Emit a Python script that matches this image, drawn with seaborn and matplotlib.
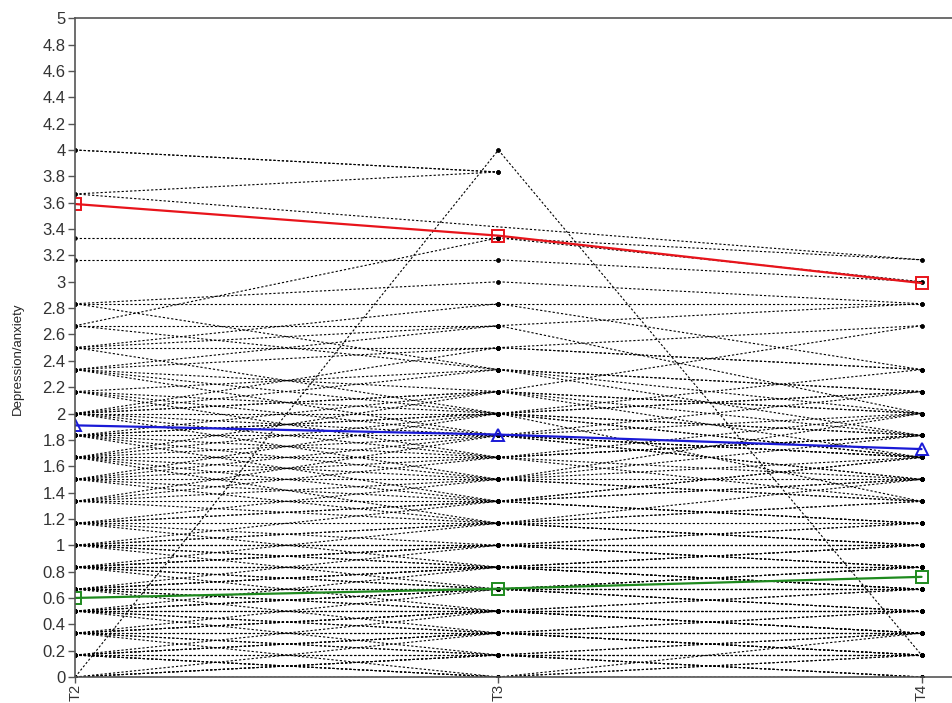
import numpy as np
import pandas as pd
import matplotlib
matplotlib.use("Agg")
import matplotlib.pyplot as plt
import seaborn as sns

N = np.nan

# individual trajectories, scores in sixths (0..24 -> 0..4)
t2 = [24, 24, 22, 22, 0, 20, 19, 17, 16, 17, 16, 15, 14, 16, 15, 17, 14, 15, 12, 15,
      14, 13, 12, 12, 11, 11, 10, 10, 12, 11, 9, 9, 10, 8, 13, 12, 11, 8, 9, 10,
      12, 11, 8, 9, 7, 10, 13, 14, 12, 11, 9, 10, 8, 7, 13, 12, 11, 10, 9, 14,
      6, 5, 4, 3, 2, 1, 0, 0, 1, 2, 3, 4, 5, 6, 7, 5, 4, 3, 2, 1,
      0, 1, 2, 3, 4, 5, 6, 7, 6, 5, 4, 3, 2, 1, 0, 0, 1, 2, 3, 4,
      5, 6, 7, 6, 5, 4, 3, 2, 1, 0, 0, 1, 2, 3, 4, 5, 6, 7, 8, 6,
      5, 4, 3, 2, 1, 0, 3, 4, 5, 6]
t3 = [23, 23, 23, N, 24, 20, 19, 18, 20, 17, 16, 15, 15, 14, 16, 14, 13, 17, 14, 12,
      16, 12, 13, 11, 12, 10, 11, 9, 12, 13, 10, 8, 10, 9, 11, 10, 11, 10, 11, 12,
      9, 8, 8, 7, 9, 8, 14, 12, 15, 9, 12, 13, 11, 8, 10, 13, 12, 7, 9, 11,
      5, 6, 4, 4, 3, 2, 1, 0, 1, 2, 3, 5, 4, 6, 6, 5, 3, 2, 1, 0,
      0, 1, 2, 3, 4, 5, 6, 7, 7, 6, 5, 4, 3, 2, 1, 2, 3, 4, 5, 6,
      7, 8, 5, 4, 3, 2, 1, 0, 0, 0, 1, 2, 3, 4, 5, 6, 7, 8, 7, 5,
      4, 3, 2, 1, 0, 0, 3, 4, 5, 6]
t4 = [N, N, N, 19, 1, 19, 18, 17, 18, 14, 17, 16, 14, 13, N, 12, 16, 17, 13, 10,
      12, 11, 12, 10, 13, 11, 9, 10, 11, 12, 11, 10, 8, 9, 10, 12, 13, 11, 9, 14,
      8, 9, 10, 8, 8, 7, 11, 13, 14, 11, 10, 11, 12, 9, 9, 10, 8, 9, 12, 10,
      6, 5, 5, 4, 3, 2, 1, 0, 0, 1, 4, 4, 5, 7, 6, 4, 3, 2, 1, 0,
      1, 2, 3, 3, 4, 5, 6, 6, 7, 6, 5, 4, 2, 1, 0, 1, 2, 3, 4, 5,
      6, 7, 5, 4, 3, 2, 1, 0, 1, 0, 2, 3, 4, 5, 6, 7, 8, 7, 6, 4,
      3, 2, 1, 0, 0, 2, 2, 3, 6, 5]

times = ["T2", "T3", "T4"]

# class means
mean_high = [3.59, 3.35, 2.99]
mean_mid = [1.91, 1.84, 1.73]
mean_low = [0.60, 0.67, 0.76]

# one row pair per drawn segment, so every dash pattern starts at its own point
rows = []
seg = 0
for i, vals in enumerate(zip(t2, t3, t4)):
    pts = [(j, v / 6) for j, v in enumerate(vals) if not np.isnan(v)]
    for a, b in zip(pts[:-1], pts[1:]):
        rows.append({"seg": seg, "time": a[0], "score": a[1]})
        rows.append({"seg": seg, "time": b[0], "score": b[1]})
        seg += 1
df = pd.DataFrame(rows)

sns.set_style("white")
plt.rcParams["font.family"] = ["Liberation Sans", "DejaVu Sans"]

fig = plt.figure(figsize=(9.52, 7.03), dpi=100)
ax = fig.add_axes([0.079, 0.037, 0.921, 0.937])

sns.lineplot(data=df, x="time", y="score", units="seg", estimator=None,
             color="black", linestyle=(0, (2.0, 1.8)), linewidth=0.8,
             marker="o", markersize=3.2, markeredgewidth=0, ax=ax, legend=False)

mdf = pd.DataFrame({"time": [0, 1, 2] * 3,
                    "score": mean_high + mean_mid + mean_low,
                    "group": ["high"] * 3 + ["mid"] * 3 + ["low"] * 3})
styles = {"high": ("#e8141b", "s"), "mid": ("#1a1ad6", "^"), "low": ("#1e8a1e", "s")}
for g, (c, m) in styles.items():
    sub = mdf[mdf["group"] == g]
    sns.lineplot(data=sub, x="time", y="score", color=c, linewidth=1.6,
                 marker=m, markersize=8, markerfacecolor="none",
                 markeredgecolor=c, markeredgewidth=1.4, ax=ax, legend=False)

ax.set_xlim(0, 2.072)
ax.set_ylim(0, 5)
yt = np.round(np.arange(0, 5.01, 0.2), 1)
ax.set_yticks(yt)
ax.set_yticklabels([f"{v:g}" for v in yt], fontsize=12)
ax.set_xticks([0, 1, 2])
ax.set_xticklabels(times, rotation=90, fontsize=10.5)
ax.set_xlabel("")
ax.set_ylabel("Depression/anxiety", fontsize=9.5)
ax.yaxis.set_label_coords(-0.058, 0.483)
ax.tick_params(axis="y", direction="out", length=5, width=1, color="#555555",
               left=True, pad=2)
ax.tick_params(axis="x", direction="out", length=4, width=1, color="#555555",
               bottom=True, pad=1)
for s in ["left", "bottom", "top"]:
    ax.spines[s].set_color("#555555")
    ax.spines[s].set_linewidth(1.2)
ax.spines["right"].set_visible(False)
for lab in ax.get_yticklabels() + ax.get_xticklabels():
    lab.set_color("#333333")

fig.savefig("out.png", dpi=100)
